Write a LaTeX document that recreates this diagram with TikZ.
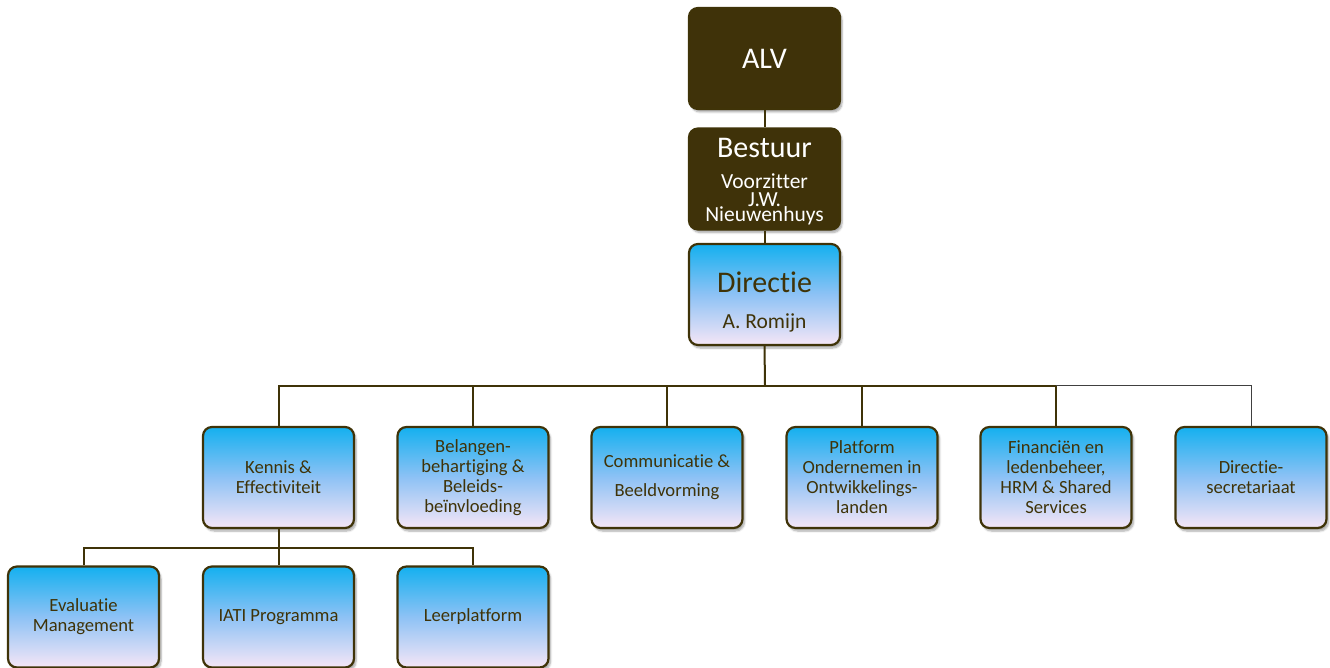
\documentclass[tikz,border=0pt]{standalone}
\usepackage{fontspec}
\setmainfont{Carlito}[Ligatures={NoCommon}]
\usetikzlibrary{shadows.blur}
\definecolor{brd}{HTML}{3F3308}
\definecolor{darkfill}{HTML}{3F3209}
\definecolor{txt}{HTML}{3F3308}
\definecolor{topc}{HTML}{14B0EF}
\definecolor{midc}{HTML}{8EC2F5}
\definecolor{botc}{HTML}{F5E6F6}
\tikzset{
  boxbase/.style={draw=brd, line width=2.2pt, rounded corners=9pt, minimum width=151pt, minimum height=101pt, inner sep=0pt, align=center,
    blur shadow={shadow xshift=2pt, shadow yshift=-3pt, shadow opacity=35, shadow blur steps=6}},
  bluebox/.style={boxbase, top color=topc, bottom color=botc, middle color=midc, text=txt, font=\fontsize{18.6}{20}\selectfont},
  darkbox/.style={boxbase, fill=darkfill, text=white},
  bigtxt/.style={text=#1, font=\fontsize{30}{32}\selectfont, inner sep=0pt},
  smalltxt/.style={text=#1, font=\fontsize{21.5}{22}\selectfont, inner sep=0pt},
  conn/.style={draw=brd, line width=2pt},
  thinconn/.style={draw=black!75, line width=0.9pt}
}
\begin{document}
\begin{tikzpicture}[x=1pt,y=-1pt]
\useasboundingbox (0,0) rectangle (1330,668);
% top boxes
\node[darkbox, bigtxt=white] (alv) at (764.5,58.5) {ALV};
\node[darkbox] (bestuur) at (764.5,179) {};
\node[bigtxt=white] (bestuurT) at (764.5,148) {Bestuur};
\node[smalltxt=white] (voorz) at (764.5,181) {Voorzitter};
\node[smalltxt=white] (jw) at (764.5,200) {J.W.};
\node[smalltxt=white] (nieuw) at (764.5,215.5) {Nieuwenhuys};
\node[bluebox] (directie) at (764.5,294.5) {};
\node[bigtxt=txt] (directieT) at (764.5,282) {Directie};
\node[smalltxt=txt] (romijn) at (764.5,323) {A. Romijn};
% level 2
\node[bluebox] (kennis) at (278.5,477.5) {Kennis \&\\Effectiviteit};
\node[bluebox] (belang) at (473,477.5) {Belangen-\\behartiging \&\\Beleids-\\beïnvloeding};
\node[bluebox] (comm) at (667,477.5) {Communicatie \&\\[9pt]Beeldvorming};
\node[bluebox] (platform) at (862,477.5) {Platform\\Ondernemen in\\Ontwikkelings-\\landen};
\node[bluebox] (fin) at (1056,477.5) {Financiën en\\ledenbeheer,\\HRM \& Shared\\Services};
\node[bluebox] (dsec) at (1251,477.5) {Directie-\\secretariaat};
% level 3
\node[bluebox] (eval) at (83.5,617) {Evaluatie\\Management};
\node[bluebox] (iati) at (278.5,617) {IATI Programma};
\node[bluebox] (leer) at (473,617) {Leerplatform};
% connectors
\coordinate (bus) at (765,385.5);
\coordinate (bus2) at (278.5,548);
\draw[conn] (alv.south) -- (bestuur.north);
\draw[conn] (bestuur.south) -- (directie.north);
\draw[conn] (directie.south) -- (bus);
\draw[conn] (kennis.north) |- (bus);
\draw[conn] (belang.north) |- (bus);
\draw[conn] (comm.north) |- (bus);
\draw[conn] (platform.north) |- (bus);
\draw[conn] (fin.north) |- (bus);
\draw[thinconn] (dsec.north) |- (fin.north |- bus);
\draw[conn] (kennis.south) -- (iati.north);
\draw[conn] (eval.north) |- (bus2);
\draw[conn] (leer.north) |- (bus2);
\end{tikzpicture}
\end{document}
